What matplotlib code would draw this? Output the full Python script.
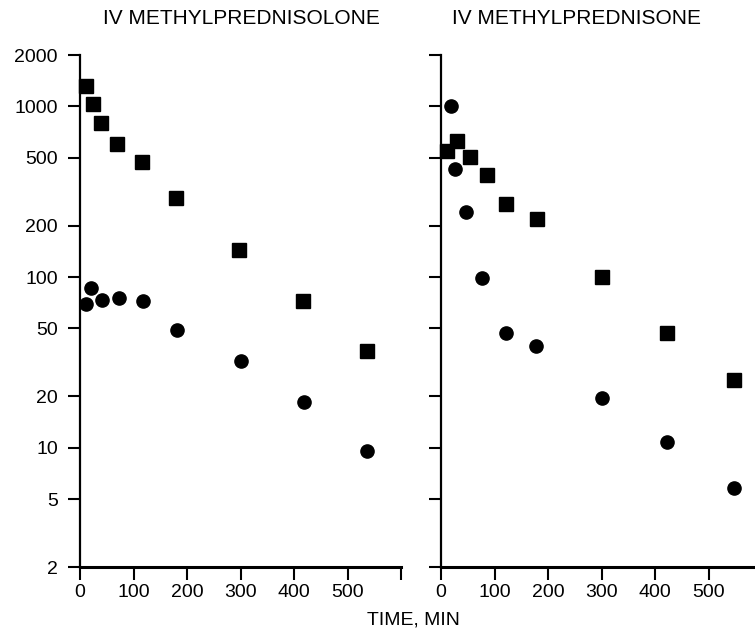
import matplotlib
matplotlib.use("Agg")
import matplotlib.pyplot as plt
from matplotlib.ticker import FixedLocator, NullLocator

# methylprednisolone given IV (left panel)
t_mpl_sq = [11, 25, 39, 70, 115, 180, 297, 416, 536]
v_mpl_sq = [1315, 1028, 800, 601, 470, 292, 145, 72.6, 36.8]
t_mpl_ci = [12, 21, 42, 73, 118, 182, 300, 418, 537]
v_mpl_ci = [69.5, 86.5, 73.3, 75, 72.3, 48.9, 32.1, 18.5, 9.6]

# methylprednisone given IV (right panel)
t_mpn_sq = [11, 30, 55, 85, 122, 180, 300, 422, 547]
v_mpn_sq = [547, 626, 502, 396, 268, 219, 99.6, 47.2, 24.9]
t_mpn_ci = [18, 26, 47, 77, 121, 177, 300, 422, 547]
v_mpn_ci = [1008, 427, 239, 98.2, 47.2, 39.6, 19.5, 10.8, 5.8]

y_ticks = [2, 5, 10, 20, 50, 100, 200, 500, 1000, 2000]
x_ticks_left = [0, 100, 200, 300, 400, 500, 600]
x_labels_left = ["0", "100", "200", "300", "400", "500", ""]
x_ticks_right = [0, 100, 200, 300, 400, 500]

plt.rcParams["font.family"] = "Liberation Sans"
plt.rcParams["font.size"] = 14

fig = plt.figure(figsize=(7.55, 6.35), dpi=100)
ax1 = fig.add_axes([80 / 755, 68 / 635, 321 / 755, 512 / 635])
ax2 = fig.add_axes([441 / 755, 68 / 635, 314 / 755, 512 / 635])


def style(ax, xmax, xticks, xlabels, show_ylabels):
    ax.set_yscale("log")
    ax.set_ylim(2, 2000)
    ax.set_xlim(0, xmax)
    for s in ["top", "right"]:
        ax.spines[s].set_visible(False)
    ax.spines["left"].set_linewidth(1.6)
    ax.spines["bottom"].set_linewidth(2.2)
    ax.yaxis.set_major_locator(FixedLocator(y_ticks))
    ax.yaxis.set_minor_locator(NullLocator())
    if show_ylabels:
        ax.set_yticklabels([str(v) for v in y_ticks])
    else:
        ax.set_yticklabels([])
    ax.set_xticks(xticks)
    ax.set_xticklabels(xlabels)
    ax.tick_params(axis="both", direction="out", length=9, width=1.5, labelsize=14)
    ax.tick_params(axis="y", pad=7)
    ax.tick_params(axis="x", pad=3)


style(ax1, 600, x_ticks_left, x_labels_left, True)
style(ax2, 586, x_ticks_right, [str(v) for v in x_ticks_right], False)

ax1.plot(t_mpl_sq, v_mpl_sq, "s", color="black", ms=9.5, clip_on=False)
ax1.plot(t_mpl_ci, v_mpl_ci, "o", color="black", ms=9.5, clip_on=False)
ax2.plot(t_mpn_sq, v_mpn_sq, "s", color="black", ms=9.5, clip_on=False)
ax2.plot(t_mpn_ci, v_mpn_ci, "o", color="black", ms=9.5, clip_on=False)

fig.text(241 / 755, 1 - 19 / 635, "IV METHYLPREDNISOLONE", ha="center", va="center", fontsize=15)
fig.text(577 / 755, 1 - 19 / 635, "IV METHYLPREDNISONE", ha="center", va="center", fontsize=15)
fig.text(413 / 755, 1 - 620 / 635, "TIME, MIN", ha="center", va="center", fontsize=14)

fig.savefig("out.png", dpi=100)
